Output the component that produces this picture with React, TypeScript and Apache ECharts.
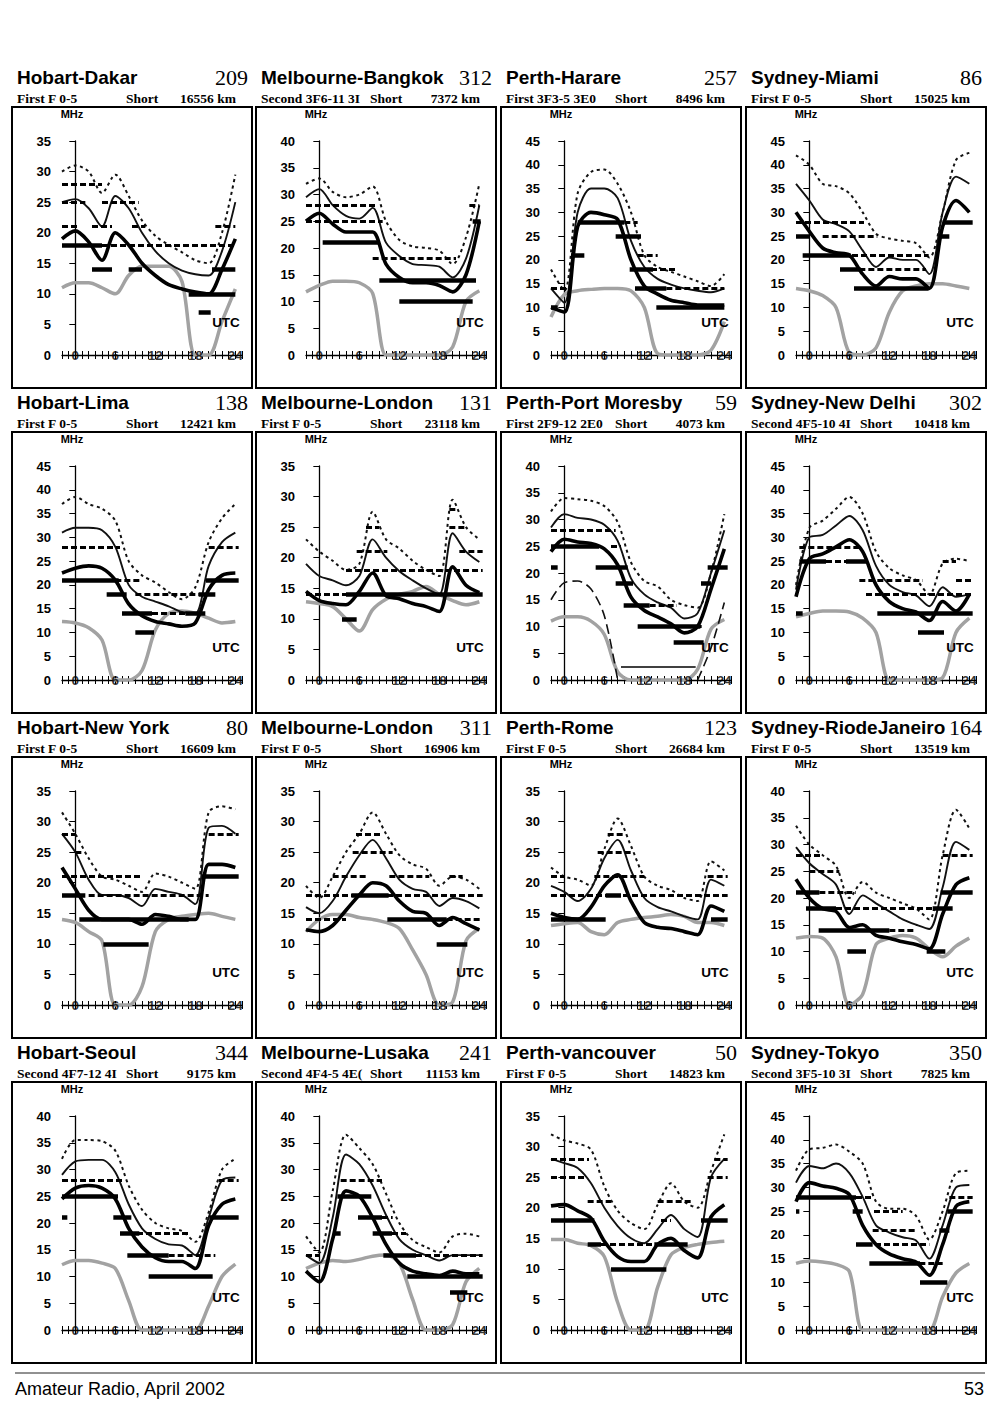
import React, { useEffect, useRef } from 'react';
import * as echarts from 'echarts';

type Bar = [number, number, number]; // [MHz level, from hour, to hour]

// sample hours of every curve
const HOURS = [-2, 0, 2, 4, 6, 8, 10, 12, 14, 16, 18, 20, 22, 24];
// labelled hours on the UTC axis
const UTC_LABELS = [0, 6, 12, 18, 24];

const ROUTES = [
  'Hobart-Dakar', 'Melbourne-Bangkok', 'Perth-Harare', 'Sydney-Miami',
  'Hobart-Lima', 'Melbourne-London', 'Perth-Port Moresby', 'Sydney-New Delhi',
  'Hobart-New York', 'Melbourne-London', 'Perth-Rome', 'Sydney-RiodeJaneiro',
  'Hobart-Seoul', 'Melbourne-Lusaka', 'Perth-vancouver', 'Sydney-Tokyo',
];
const ROUTE_NUMBERS = ['209', '312', '257', '86', '138', '131', '59', '302', '80', '311', '123', '164', '344', '241', '50', '350'];
const MODES = [
  'First F 0-5', 'Second 3F6-11 3I', 'First 3F3-5 3E0', 'First F 0-5',
  'First F 0-5', 'First F 0-5', 'First 2F9-12 2E0', 'Second 4F5-10 4I',
  'First F 0-5', 'First F 0-5', 'First F 0-5', 'First F 0-5',
  'Second 4F7-12 4I', 'Second 4F4-5 4E(', 'First F 0-5', 'Second 3F5-10 3I',
];
const DISTANCES = ['16556 km', '7372 km', '8496 km', '15025 km', '12421 km', '23118 km', '4073 km', '10418 km',
  '16609 km', '16906 km', '26684 km', '13519 km', '9175 km', '11153 km', '14823 km', '7825 km'];
const Y_MAX = [35, 40, 45, 45, 45, 35, 40, 45, 35, 35, 35, 40, 40, 40, 35, 45];

// 1 Hobart-Dakar
const dakarUpper = [30, 31, 30, 26.5, 29.5, 26, 22, 19.5, 18, 16.8, 15.5, 15, 20, 29.5];
const dakarMedian = [25, 25.5, 24, 21, 26, 24, 20, 17, 15, 13.8, 13.2, 13, 17, 25];
const dakarLower = [19, 20.3, 18.5, 15.5, 20, 18, 15, 13, 11.5, 10.8, 10.3, 10, 14, 19];
const dakarAlf = [11, 11.8, 11.8, 11, 10, 13, 14.5, 14.5, 14.5, 12, 0, 0, 5.5, 10.8];
const dakarThick: Bar[] = [[18, -2, 4], [14, 2.5, 5.5], [14, 8, 10], [14, 20.5, 24], [10, 17, 24], [7, 18.5, 20.3]];
const dakarDash: Bar[] = [[28, -2, 4], [25, -2, 1.5], [25, 4, 9.5], [21, -2, 0.5], [21, 2.5, 5.5], [21, 8.5, 10.5], [21, 21, 24], [18, 4, 24]];

// 2 Melbourne-Bangkok
const bangkokUpper = [32, 33, 30.5, 29.5, 30, 31.5, 25, 21.5, 20.3, 20, 19.5, 17, 22, 32];
const bangkokMedian = [29.5, 31, 28, 26, 25.5, 27.5, 21, 18.5, 17, 16.8, 16.5, 14.5, 18, 28];
const bangkokLower = [25, 26.5, 24.5, 23, 23, 23, 17, 14.5, 13.5, 13.5, 13, 11.8, 15, 25];
const bangkokAlf = [11.8, 13, 13.8, 13.8, 13.5, 11.5, 0, 0, 0, 0, 0, 1.5, 10, 12];
const bangkokThick: Bar[] = [[21, 0.5, 9], [14, 9, 23.5], [10, 12, 23], [25, 23, 24.2]];
const bangkokDash: Bar[] = [[28, -2, 8.5], [25, -2, 9.5], [18, 8, 20.5], [28, 22.5, 24]];

// 3 Perth-Harare
const harareUpper = [18, 13.5, 34, 38.5, 39, 36, 30, 21, 18.5, 17.5, 16.5, 15.5, 14.5, 17];
const harareMedian = [14, 11, 30, 35, 35, 33, 24, 18.5, 16, 14.8, 14, 13.5, 13.2, 14];
const harareLower = [10, 9, 27, 30, 29.5, 28.5, 20, 14.5, 12.8, 11.5, 11, 10.5, 10.5, 10.5];
const harareAlf = [8, 12.7, 13.5, 13.8, 14, 14, 13.5, 10, 0.3, 0, 0, 0, 1, 7];
const harareThick: Bar[] = [[28, 2, 9], [25, 7.7, 11.5], [21, 1, 3], [18, 9.8, 13.3], [14, 10.6, 15.3], [10, 13.8, 24], [10, -2, -1]];
const harareDash: Bar[] = [[14, -2, 0.7], [14, 15.3, 24], [28, 9, 11], [21, 11, 14], [18, 13, 17]];

// 4 Sydney-Miami
const miamiUpper = [42, 40, 36, 35.5, 34, 30, 25.5, 24.5, 24, 23.5, 20.5, 30, 41, 42.5];
const miamiMedian = [36, 32.5, 28.5, 27.5, 26, 22, 18.5, 20.5, 20, 20, 17, 30, 37.5, 36];
const miamiLower = [30, 26, 22.5, 21.5, 21, 17, 14.5, 16.5, 16, 16, 14, 27, 32.5, 30];
const miamiAlf = [14, 13.5, 12.5, 10, 0.5, 0, 1.5, 9, 13.5, 14.5, 15, 15, 14.5, 14];
const miamiThick: Bar[] = [[28, 20, 24.5], [25, -2, 0], [21, -1, 6.2], [18, 4.6, 7.7], [14, 6.7, 17.9], [25, 19.5, 21]];
const miamiDash: Bar[] = [[28, -2, 8.2], [25, 2, 10.2], [21, 6.4, 17.9], [18, 7.5, 17.5]];

// 5 Hobart-Lima
const limaUpper = [37, 38.5, 37, 36, 33.5, 25, 22, 20.5, 18.5, 17, 19.5, 29, 34, 37];
const limaMedian = [31, 32, 32, 31.5, 28, 20, 17.5, 16.5, 15.5, 14.3, 14, 24, 29, 31];
const limaLower = [22.5, 23.5, 24, 23.5, 21, 16, 13.5, 12.3, 11.8, 11.3, 12, 19, 22, 22.5];
const limaAlf = [12.3, 12, 11, 8.4, 0, 0, 2, 10.5, 14, 14.5, 14, 13, 12, 12.3];
const limaThick: Bar[] = [[21, -2, 6.5], [18, 4.7, 7.7], [14, 7, 11.5], [14, 16.5, 19.5], [10, 9, 11.8], [21, 19.6, 24.5], [18, 18.5, 21]];
const limaDash: Bar[] = [[28, -2, 6.7], [21, 6, 10], [18, 9, 21], [14, 11.5, 19.5], [28, 20, 24.5]];

// 6 Melbourne-London (131)
const london1Upper = [23, 21, 19.5, 18, 19, 27.5, 23, 21.5, 19.5, 18, 17, 29.5, 25, 23];
const london1Median = [19, 17, 16.3, 15.5, 17, 23, 20, 17.8, 16.3, 15, 14, 24, 21, 19.3];
const london1Lower = [14.5, 13, 12.5, 12.3, 14.5, 17.5, 13.8, 13.3, 12.5, 12, 11.2, 18.5, 15.5, 14.3];
const london1Alf = [12.8, 12.5, 12, 10, 8, 11.5, 13.2, 14, 14.5, 15.3, 14, 13, 12.3, 12.8];
const london1Thick: Bar[] = [[14, 4, 24.5], [10, 3.4, 5.6]];
const london1Dash: Bar[] = [[14, -2, 4], [21, 5.6, 10.2], [18, 4, 24.5], [25, 7, 9], [25, 19.5, 22], [21, 21, 24.5], [28, 19.5, 20.5]];

// 7 Perth-Port Moresby
const moresbyUpper = [31.5, 34, 33.8, 33.5, 32.5, 29.5, 22, 18.5, 17.5, 15, 14, 13.5, 20, 31];
const moresbyMedian = [28.5, 31, 30.3, 30, 29, 26, 19, 16, 14.5, 13.5, 11.5, 12.5, 20, 28];
const moresbyLower = [24, 26.3, 25.8, 25.5, 24.5, 21.5, 15.5, 13, 11.8, 10.5, 8.8, 10, 17, 24.5];
const moresbyAlf = [11, 11.8, 11.8, 11, 8.5, 1.5, 0, 0, 0, 0, 0, 2, 9.5, 11.3];
const moresbyELayer: (number | null)[] = [15, 18.2, 18.5, 17, 12, 0, null, null, null, null, null, 0, 6, 14.5];
const moresbyThick: Bar[] = [[25, -2, 5.2], [21, -2, -1], [21, 4.7, 9.5], [18, 7.7, 10.3], [14, 8.9, 12.8], [10, 11, 20.4], [7, 16.4, 20.9], [21, 21.5, 24.5], [18, 20.5, 22]];
const moresbyDash: Bar[] = [[28, -2, 7.7], [25, 7, 8.5], [14, 12.8, 16.9], [10, 17, 21]];
const moresbyThin: Bar[] = [[2.5, 8.5, 19.7]];

// 8 Sydney-New Delhi
const delhiUpper = [20, 32, 33.5, 36, 38.5, 35, 27, 23.5, 22, 21, 18, 24.5, 25.5, 25];
const delhiMedian = [19, 30, 30.5, 32.5, 34.5, 31.5, 24, 20, 18.5, 17.8, 15.5, 19.5, 17.5, 18];
const delhiLower = [17.5, 25.5, 26.5, 28, 29.5, 27, 20, 16.5, 15, 14.3, 12.5, 16.5, 14.5, 18];
const delhiAlf = [13.3, 14, 14.5, 14.5, 14.3, 13, 10, 0, 0, 0, 0, 0.5, 10, 13];
const delhiThick: Bar[] = [[25, -1.5, 2.5], [25, 5.5, 8.5], [14, -2, -1], [14, 10.2, 24.5], [10, 16.3, 20.2]];
const delhiDash: Bar[] = [[28, -1.5, 7.5], [25, 2.5, 5.5], [21, 7.5, 17], [18, 8.5, 24.5], [21, 22, 24.5], [25, 20, 22]];

// 9 Hobart-New York
const newYorkUpper = [31.5, 28, 24, 21, 20.5, 19.5, 18.5, 21.5, 21, 20, 19, 31.5, 32.5, 32];
const newYorkMedian = [28, 25, 20.5, 18, 18, 17.5, 16.2, 19, 18.5, 18, 16.5, 29, 29.3, 28];
const newYorkLower = [22.5, 19, 15.5, 14, 14, 14, 13.2, 14.8, 14.5, 14, 14, 23, 23, 22.5];
const newYorkAlf = [14, 13.5, 12, 10.5, 0, 0, 3, 12, 14, 14.5, 14.8, 15, 14.5, 14];
const newYorkThick: Bar[] = [[18, -2, 1.5], [14, 0.6, 17], [10, 4.2, 11], [21, 19, 24.5]];
const newYorkDash: Bar[] = [[18, 2, 20], [21, -2, 10], [28, -2, 0], [25, 0, 1], [28, 20, 24.5]];

// 10 Melbourne-London (311)
const london2Upper = [19.5, 17.5, 21, 25, 28, 31.5, 28, 24.5, 23, 22.3, 19.5, 21, 20.5, 19];
const london2Median = [16, 15, 17, 21, 24.5, 27, 24, 20.5, 19, 18.5, 16.2, 17.5, 17, 15.8];
const london2Lower = [12.3, 12, 13, 15.5, 18, 20, 19.5, 17, 15.3, 15, 13, 14.3, 13.3, 12.3];
const london2Alf = [12, 14, 14.8, 14.8, 14.3, 14, 13.5, 12.5, 9, 5, 0, 0.5, 10.5, 12.5];
const london2Thick: Bar[] = [[18, 4.8, 10.4], [14, 10.2, 19.1], [10, 17.6, 22.2]];
const london2Dash: Bar[] = [[18, -2, 24.5], [14, -2, 4], [14, 19.1, 24.5], [21, 2, 7], [21, 10.5, 16.5], [25, 5, 11], [28, 5.5, 9.5], [21, 19.5, 21.5]];

// 11 Perth-Rome
const romeUpper = [22.5, 21, 20.5, 19.5, 25.5, 30.5, 26, 21, 19.5, 18.8, 17.5, 17, 23.5, 22];
const romeMedian = [19.5, 18.5, 17, 19, 24, 27, 22, 17.5, 16, 15.3, 14.5, 14, 20.5, 19.5];
const romeLower = [15, 14.3, 14, 16, 19.5, 21.3, 17, 13.5, 12.7, 12.5, 12, 11.5, 16.2, 15.3];
const romeAlf = [13, 13.3, 13.5, 12, 11.5, 13.5, 14, 14.3, 14.5, 14.8, 14.5, 13.5, 13.5, 13];
const romeThick: Bar[] = [[14, -2, 6.2], [14, 22, 24.5], [18, 6.2, 8.5]];
const romeDash: Bar[] = [[18, -2, 24.5], [21, -2, 0], [21, 4.5, 12], [25, 5, 10], [28, 6.5, 9], [21, 21.5, 24.5]];

// 12 Sydney-RiodeJaneiro
const rioUpper = [33.5, 30, 28, 26, 20, 23, 21, 20, 19, 18, 16, 28, 36.5, 33];
const rioMedian = [29.5, 26.5, 24.5, 22.5, 17, 20.5, 19, 17.5, 16, 15, 14.2, 22, 30.5, 29];
const rioLower = [23.5, 20, 18, 17.5, 14.5, 15, 13, 12.5, 11.8, 11.3, 10.5, 17, 22.5, 23.8];
const rioAlf = [12.5, 12.8, 12.5, 9, 0, 2, 11.3, 12.5, 13, 12.5, 10.5, 9, 11, 12.5];
const rioThick: Bar[] = [[21, -2, 1.5], [18, -0.5, 4], [14, 1.4, 12], [10, 5.7, 8.5], [10, 17.6, 20.4], [21, 19.7, 24.5], [18, 18.5, 21.5]];
const rioDash: Bar[] = [[28, -2, 2], [25, 0, 4.5], [21, 1.5, 7], [18, 4, 19], [14, 12, 16], [28, 20, 24.5]];

// 13 Hobart-Seoul
const seoulUpper = [32, 35.5, 35.5, 35.3, 33.5, 27, 22.5, 20, 19, 18.5, 16.5, 22, 30, 32];
const seoulMedian = [29, 31.5, 31.8, 31.8, 29.5, 23.5, 19, 17, 16, 15.8, 14, 21, 28, 28.5];
const seoulLower = [24.5, 26.5, 27, 26.5, 24.5, 19, 15.5, 13.5, 12.8, 12.8, 11.5, 19.5, 23.5, 24.5];
const seoulAlf = [12.2, 13, 13, 12.5, 11.5, 5.5, 0, 0, 0, 0, 0, 4.5, 10, 12.3];
const seoulThick: Bar[] = [[25, -2, 6.4], [21, -2, -1.2], [21, 5.7, 8.4], [18, 6.7, 9.6], [14, 7.8, 14], [10, 11, 20.6], [21, 20.1, 24.5]];
const seoulDash: Bar[] = [[28, -2, 7.4], [18, 7.9, 17], [14, 14, 21], [28, 21.5, 24.5]];

// 14 Melbourne-Lusaka
const lusakaUpper = [17.5, 14.5, 26, 36.5, 34, 31, 25.5, 20, 16.8, 15.5, 14.5, 17.5, 18, 17.5];
const lusakaMedian = [14, 12.5, 21, 32.8, 31, 27, 21.5, 17, 15, 14, 13, 14, 14, 14];
const lusakaLower = [11, 9, 17, 26, 25, 21, 16, 12.5, 11, 10.5, 10.2, 11, 10.5, 10.5];
const lusakaAlf = [11.5, 12.5, 13, 12.8, 13.2, 13.8, 14, 12.5, 5.7, 0, 0, 1, 9, 11.5];
const lusakaThick: Bar[] = [[25, 2.7, 7.8], [21, 5.8, 9.4], [18, 2.2, 3.2], [18, 8, 10.9], [14, 9.6, 14.5], [10, 13.2, 24.5], [7, 19.6, 22.2]];
const lusakaDash: Bar[] = [[28, 3.2, 9.4], [14, 14.5, 24.5], [21, 9.4, 11], [18, 10.9, 13], [14, -2, 0]];

// 15 Perth-vancouver
const vancouverUpper = [32, 31, 30.5, 29.5, 23.5, 19.5, 17.5, 16.5, 20.5, 24, 21, 20, 26, 32];
const vancouverMedian = [28, 27.3, 26.5, 24, 20, 17, 15, 14.2, 16.5, 18.8, 16.5, 15.2, 25, 28];
const vancouverLower = [20.3, 20.5, 19.5, 18.3, 14.5, 12, 11.2, 11.2, 14, 15, 13, 11.8, 18.5, 20.5];
const vancouverAlf = [14.8, 14.8, 14.2, 13.8, 12, 4.5, 0, 0, 7, 12.3, 13.5, 14, 14.3, 14.5];
const vancouverThick: Bar[] = [[18, -2, 4.5], [14, 3.5, 5.5], [14, 13.5, 18.5], [10, 7, 15.3], [18, 20.5, 24.5]];
const vancouverDash: Bar[] = [[28, -2, 3.7], [25, -2, 3], [21, 3.5, 7], [14, 5.5, 13.5], [21, 14, 19], [18, 14.5, 16], [25, 21.5, 24.5], [28, 22.5, 24.5]];

// 16 Sydney-Tokyo
const tokyoUpper = [33.5, 38, 38.3, 39, 37.5, 35, 27, 25.5, 25.5, 24, 19, 25, 33, 33.5];
const tokyoMedian = [31, 34.5, 34, 35, 33, 28, 22, 20.5, 19.5, 18.8, 15, 22, 30, 30.5];
const tokyoLower = [27, 31, 30.3, 29.8, 28.5, 22, 18, 16, 15, 14.3, 11.5, 18, 26, 27];
const tokyoAlf = [14, 14.5, 14.3, 13.8, 12.3, 0, 0, 0, 0, 0, 0, 7, 12, 14];
const tokyoThick: Bar[] = [[28, -2, 7], [25, -2, -1.5], [25, 6.5, 8], [18, 7, 9.5], [14, 9, 16.6], [10, 16.6, 20.7], [25, 20.7, 24.5], [21, 19.5, 21]];
const tokyoDash: Bar[] = [[28, 7, 9.5], [25, 9.7, 14], [21, 9.5, 16], [18, 8.5, 18], [14, 16.5, 20], [28, 21, 24.5]];

type Panel = {
  upper: number[]; median: number[]; lower: number[]; alf: number[];
  thick: Bar[]; dash: Bar[]; thin?: Bar[]; extra?: (number | null)[];
};

const PANELS: Panel[] = [
  { upper: dakarUpper, median: dakarMedian, lower: dakarLower, alf: dakarAlf, thick: dakarThick, dash: dakarDash },
  { upper: bangkokUpper, median: bangkokMedian, lower: bangkokLower, alf: bangkokAlf, thick: bangkokThick, dash: bangkokDash },
  { upper: harareUpper, median: harareMedian, lower: harareLower, alf: harareAlf, thick: harareThick, dash: harareDash },
  { upper: miamiUpper, median: miamiMedian, lower: miamiLower, alf: miamiAlf, thick: miamiThick, dash: miamiDash },
  { upper: limaUpper, median: limaMedian, lower: limaLower, alf: limaAlf, thick: limaThick, dash: limaDash },
  { upper: london1Upper, median: london1Median, lower: london1Lower, alf: london1Alf, thick: london1Thick, dash: london1Dash },
  { upper: moresbyUpper, median: moresbyMedian, lower: moresbyLower, alf: moresbyAlf, thick: moresbyThick, dash: moresbyDash, thin: moresbyThin, extra: moresbyELayer },
  { upper: delhiUpper, median: delhiMedian, lower: delhiLower, alf: delhiAlf, thick: delhiThick, dash: delhiDash },
  { upper: newYorkUpper, median: newYorkMedian, lower: newYorkLower, alf: newYorkAlf, thick: newYorkThick, dash: newYorkDash },
  { upper: london2Upper, median: london2Median, lower: london2Lower, alf: london2Alf, thick: london2Thick, dash: london2Dash },
  { upper: romeUpper, median: romeMedian, lower: romeLower, alf: romeAlf, thick: romeThick, dash: romeDash },
  { upper: rioUpper, median: rioMedian, lower: rioLower, alf: rioAlf, thick: rioThick, dash: rioDash },
  { upper: seoulUpper, median: seoulMedian, lower: seoulLower, alf: seoulAlf, thick: seoulThick, dash: seoulDash },
  { upper: lusakaUpper, median: lusakaMedian, lower: lusakaLower, alf: lusakaAlf, thick: lusakaThick, dash: lusakaDash },
  { upper: vancouverUpper, median: vancouverMedian, lower: vancouverLower, alf: vancouverAlf, thick: vancouverThick, dash: vancouverDash },
  { upper: tokyoUpper, median: tokyoMedian, lower: tokyoLower, alf: tokyoAlf, thick: tokyoThick, dash: tokyoDash },
];

// layout
const COL_X = [12, 256, 501, 746];
const ROW_Y = [107, 432, 757, 1082];
const BOX_W = 240;
const BOX_H = 281;
const X_MIN = -2;
const X_MAX = 25;
const SANS = '"Liberation Sans", Arial, sans-serif';
const SERIF = '"Liberation Serif", "Times New Roman", serif';

function buildOption() {
  const grid: any[] = [];
  const xAxis: any[] = [];
  const yAxis: any[] = [];
  const series: any[] = [];
  const graphic: any[] = [];

  PANELS.forEach((p, i) => {
    const bx = COL_X[i % 4];
    const by = ROW_Y[Math.floor(i / 4)];
    grid.push({ left: bx + 50, top: by + 34, width: 180, height: 214 });
    const xBase = {
      gridIndex: i, type: 'value', position: 'bottom', min: X_MIN, max: X_MAX, interval: 1,
      splitLine: { show: false }, axisLabel: { show: false },
    };
    xAxis.push({
      ...xBase,
      axisLine: { show: true, onZero: true, lineStyle: { color: '#000', width: 1.3 } },
      axisTick: { show: true, inside: true, length: 4, lineStyle: { color: '#000', width: 1 } },
    });
    xAxis.push({
      ...xBase,
      axisLine: { show: false },
      axisTick: { show: true, inside: false, length: 4, lineStyle: { color: '#000', width: 1 } },
    });
    yAxis.push({
      gridIndex: i, type: 'value', min: 0, max: Y_MAX[i], interval: 5,
      axisLine: { show: true, lineStyle: { color: '#000', width: 1.3 } },
      axisTick: { show: true, inside: false, length: 6, lineStyle: { color: '#000', width: 1 } },
      axisLabel: { margin: 11, color: '#000', fontFamily: SANS, fontWeight: 'bold', fontSize: 13 },
      splitLine: { show: false },
    });

    const xi = 2 * i;
    const curve = (data: (number | null)[], lineStyle: any, z: number) => ({
      type: 'line', xAxisIndex: xi, yAxisIndex: i, silent: true, z,
      data: HOURS.map((h, k) => [h, data[k] == null ? '-' : data[k]]),
      smooth: 0.3, symbol: 'none', showSymbol: false, connectNulls: false, clip: true,
      lineStyle,
    });
    const bars = (list: Bar[], lineStyle: any, z: number) => ({
      type: 'lines', coordinateSystem: 'cartesian2d', xAxisIndex: xi, yAxisIndex: i, silent: true, z,
      polyline: false,
      lineStyle: { opacity: 1, curveness: 0, cap: 'butt', ...lineStyle },
      data: list.map(([lvl, from, to]) => ({ coords: [[from, lvl], [to, lvl]] })),
    });

    series.push(curve(p.alf, { color: '#a2a2a2', width: 3.5 }, 2));
    series.push(curve(p.upper, { color: '#111', width: 2, type: [3, 3.5] }, 3));
    series.push(curve(p.median, { color: '#111', width: 1.9 }, 3));
    series.push(curve(p.lower, { color: '#000', width: 3.6 }, 3));
    if (p.extra) series.push(curve(p.extra, { color: '#111', width: 1.6, type: [10, 5] }, 3));
    series.push(bars(p.dash, { color: '#000', width: 3.2, type: [6, 3] }, 4));
    series.push(bars(p.thick, { color: '#000', width: 4.6, type: 'solid' }, 5));
    if (p.thin) series.push(bars(p.thin, { color: '#000', width: 1.6, type: 'solid' }, 4));
    // UTC hour labels sitting on the axis line
    series.push({
      type: 'scatter', xAxisIndex: xi, yAxisIndex: i, silent: true, z: 8, clip: false,
      symbol: 'circle', symbolSize: 0,
      data: UTC_LABELS.map((h) => [h, 0]),
      label: {
        show: true, position: 'inside', color: '#000', fontFamily: SANS, fontWeight: 'bold', fontSize: 13.5,
        formatter: (prm: any) => String(prm.value[0]),
      },
    });

    // panel frame and texts
    graphic.push({
      type: 'rect', z: 0, silent: true,
      shape: { x: bx, y: by, width: BOX_W, height: BOX_H },
      style: { fill: 'none', stroke: '#000', lineWidth: 2 },
    });
    graphic.push({
      type: 'text', x: bx + 5, y: by - 30, silent: true,
      style: { text: ROUTES[i], fill: '#000', font: `bold 19px ${SANS}`, align: 'left', verticalAlign: 'middle' },
    });
    graphic.push({
      type: 'text', x: bx + 236, y: by - 30, silent: true,
      style: { text: ROUTE_NUMBERS[i], fill: '#000', font: `22px ${SERIF}`, align: 'right', verticalAlign: 'middle' },
    });
    graphic.push({
      type: 'text', x: bx + 5, y: by - 8.5, silent: true,
      style: { text: MODES[i], fill: '#000', font: `bold 13.5px ${SERIF}`, align: 'left', verticalAlign: 'middle' },
    });
    graphic.push({
      type: 'text', x: bx + 114, y: by - 8.5, silent: true,
      style: { text: 'Short', fill: '#000', font: `bold 13.5px ${SERIF}`, align: 'left', verticalAlign: 'middle' },
    });
    graphic.push({
      type: 'text', x: bx + 224, y: by - 8.5, silent: true,
      style: { text: DISTANCES[i], fill: '#000', font: `bold 13.5px ${SERIF}`, align: 'right', verticalAlign: 'middle' },
    });
    graphic.push({
      type: 'text', x: bx + 60, y: by + 7, silent: true,
      style: { text: 'MHz', fill: '#000', font: `bold 11px ${SANS}`, align: 'center', verticalAlign: 'middle' },
    });
    graphic.push({
      type: 'text', x: bx + 214, y: by + 215, silent: true, z: 10,
      style: { text: 'UTC', fill: '#000', font: `bold 13.5px ${SANS}`, align: 'center', verticalAlign: 'middle' },
    });
  });

  // footer
  graphic.push({
    type: 'line', silent: true,
    shape: { x1: 15, y1: 1373, x2: 985, y2: 1373 },
    style: { stroke: '#222', lineWidth: 1 },
  });
  graphic.push({
    type: 'text', x: 15, y: 1389, silent: true,
    style: { text: 'Amateur Radio, April 2002', fill: '#000', font: `18px ${SANS}`, align: 'left', verticalAlign: 'middle' },
  });
  graphic.push({
    type: 'text', x: 984, y: 1389, silent: true,
    style: { text: '53', fill: '#000', font: `18px ${SANS}`, align: 'right', verticalAlign: 'middle' },
  });

  return {
    animation: false,
    backgroundColor: '#fff',
    grid, xAxis, yAxis, series, graphic,
  };
}

export default function App() {
  const ref = useRef<HTMLDivElement>(null);
  useEffect(() => {
    if (!ref.current) return;
    const chart = echarts.init(ref.current, undefined, { renderer: 'svg' });
    chart.setOption(buildOption() as any);
    return () => chart.dispose();
  }, []);
  return (
    <div
      ref={ref}
      style={{ position: 'absolute', left: 0, top: 0, width: 1000, height: 1402, background: '#fff' }}
    />
  );
}
